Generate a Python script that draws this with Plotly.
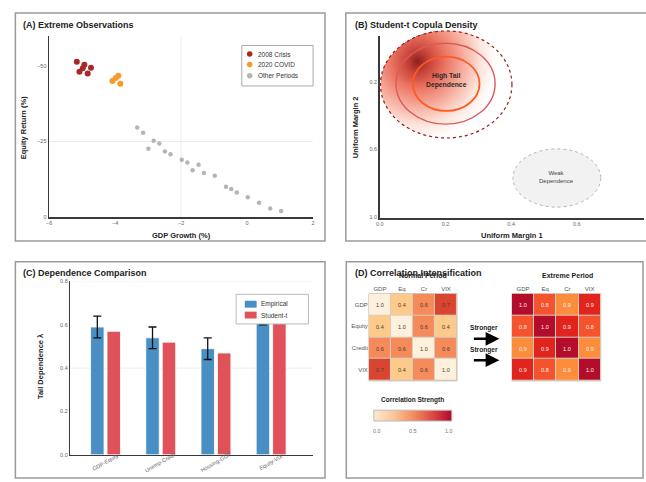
import numpy as np
import plotly.graph_objects as go

W, H = 646, 482
def px(x): return x / W
def py(y): return 1 - y / H

FONT = "Liberation Sans, Arial, sans-serif"
TICK = dict(size=5.5, color="#666666", family=FONT)

# ---------------- Panel A data ----------------
crisis_gdp = [-5.16, -4.93, -4.98, -5.08, -4.73, -4.83]
crisis_eq = [-51.3, -50.3, -49.1, -48.0, -49.3, -47.4]
covid_gdp = [-4.08, -3.98, -3.90, -3.84]
covid_eq = [-44.9, -45.9, -46.7, -44.0]
other_gdp = [-3.33, -3.15, -2.99, -2.83, -2.66, -2.49, -2.32, -1.98, -1.81, -1.65,
             -1.47, -1.31, -0.98, -0.64, -0.48, -0.31, 0.02, 0.36, 0.70, 1.03]
other_eq = [-29.6, -27.9, -22.6, -25.2, -24.3, -21.7, -20.8, -19.0, -18.1, -15.5,
            -17.3, -14.6, -13.7, -10.1, -9.3, -8.2, -6.6, -4.8, -2.9, -2.1]
a_xticks = [-6, -4, -2, 0, 2]
a_yticks = [0, -25, -50]

# ---------------- Panel B ticks ----------------
b_xticks = [0.0, 0.2, 0.4, 0.6, 0.8]
b_yticks = [0.2, 0.6, 1.0]

# ---------------- Panel C data ----------------
pairs = ["GDP-Equity", "Unemp-Credit", "Housing-GDP", "Equity-VIX"]
empirical = [0.59, 0.54, 0.49, 0.65]
empirical_err = [0.05, 0.05, 0.05, 0.05]
student_t = [0.57, 0.52, 0.47, 0.63]
c_yticks = [0.0, 0.2, 0.4, 0.6, 0.8]

# ---------------- Panel D data ----------------
corr_cols = ["GDP", "Eq", "Cr", "VIX"]
corr_rows = ["GDP", "Equity", "Credit", "VIX"]
normal_corr = [[1.0, 0.4, 0.6, 0.7],
               [0.4, 1.0, 0.6, 0.4],
               [0.6, 0.6, 1.0, 0.6],
               [0.7, 0.4, 0.6, 1.0]]
extreme_corr = [[1.0, 0.8, 0.9, 0.9],
                [0.8, 1.0, 0.9, 0.8],
                [0.9, 0.9, 1.0, 0.9],
                [0.9, 0.8, 0.9, 1.0]]
# colour level of each cell as drawn in the reference
shade_colors = ["#fdf0dc", "#fdca8c", "#f58b5b", "#fb8d3d",
                "#f4532d", "#da4532", "#e2241f", "#b30d2b"]
normal_shade = [[0, 1, 2, 5], [1, 0, 2, 1], [2, 2, 0, 2], [5, 1, 2, 0]]
extreme_shade = [[7, 4, 3, 6], [4, 7, 6, 4], [3, 6, 7, 3], [6, 4, 3, 7]]
cbar_ticks = ["0.0", "0.5", "1.0"]

n = len(shade_colors)
disc_scale = []
for i, c in enumerate(shade_colors):
    disc_scale.append([i / n, c])
    disc_scale.append([(i + 1) / n, c])

corr_scale = [[0, "#fde9d0"], [0.25, "#fbc59a"], [0.5, "#f38e5f"],
              [0.75, "#dc4a44"], [1, "#b0062f"]]

fig = go.Figure()

# ---- Panel A ----
fig.add_trace(go.Scatter(x=other_gdp, y=other_eq, mode="markers", name="Other Periods",
                         marker=dict(color="#b5b5b5", size=4.5), xaxis="x", yaxis="y"))
fig.add_trace(go.Scatter(x=covid_gdp, y=covid_eq, mode="markers", name="2020 COVID",
                         marker=dict(color="#f99b2c", size=6), xaxis="x", yaxis="y"))
fig.add_trace(go.Scatter(x=crisis_gdp, y=crisis_eq, mode="markers", name="2008 Crisis",
                         marker=dict(color="#a82828", size=6), xaxis="x", yaxis="y"))

# ---- Panel B ----
fig.add_trace(go.Scatter(x=[], y=[], xaxis="x2", yaxis="y2", showlegend=False))
# radial shading of the copula density (decorative gradient)
bx0, bx1, by0, by1 = 380, 512.7, 28.3, 136.7
gu = np.linspace(0, 1, 134)
gv = np.linspace(0, 1, 110)
GU, GV = np.meshgrid(gu, gv)
PX = bx0 + GU * (bx1 - bx0)
PY = by0 + GV * (by1 - by0)
dist = np.sqrt((PX - 418) ** 2 + (PY - 59) ** 2)
shade = np.clip(1 - dist / 80, 0, 1)
inside = ((GU - 0.5) / 0.5) ** 2 + ((GV - 0.5) / 0.5) ** 2 <= 1
shade = np.where(inside, shade, np.nan)
grad_scale = [[0, "#ffffff"], [0.2, "#fde4dc"], [0.4, "#f7b3a4"],
              [0.65, "#ec7563"], [0.85, "#c9443a"], [1, "#8f2020"]]
fig.add_trace(go.Heatmap(z=shade, x=gu, y=gv, colorscale=grad_scale, zmin=0, zmax=1,
                         showscale=False, hoverinfo="skip", xaxis="x3", yaxis="y3"))

# ---- Panel C ----
fig.add_trace(go.Bar(x=pairs, y=empirical, name="Empirical", width=0.244, offset=-0.271,
                     marker=dict(color="#4a8fc3", line=dict(color="rgba(255,255,255,0.8)", width=1)),
                     error_y=dict(type="data", array=empirical_err, color="#111111",
                                  thickness=1.3, width=4),
                     xaxis="x4", yaxis="y4"))
fig.add_trace(go.Bar(x=pairs, y=student_t, name="Student-t", width=0.244, offset=0.027,
                     marker=dict(color="#e0525a", line=dict(color="rgba(255,255,255,0.8)", width=1)),
                     xaxis="x4", yaxis="y4"))

# ---- Panel D ----
normal_text = [[f"{v:.1f}" for v in row] for row in normal_corr]
extreme_text = [[f"{v:.1f}" for v in row] for row in extreme_corr]
fig.add_trace(go.Heatmap(z=normal_shade, x=corr_cols, y=corr_rows, text=normal_text,
                         texttemplate="%{text}", textfont=dict(size=5.5, color="#4a3a2c", family=FONT),
                         colorscale=disc_scale, zmin=-0.5, zmax=n - 0.5, showscale=False,
                         xgap=1, ygap=1, hoverinfo="skip", xaxis="x5", yaxis="y5"))
fig.add_trace(go.Heatmap(z=extreme_shade, x=corr_cols, y=corr_rows, text=extreme_text,
                         texttemplate="%{text}", textfont=dict(size=5.5, color="#fff3e6", family=FONT),
                         colorscale=disc_scale, zmin=-0.5, zmax=n - 0.5, showscale=False,
                         xgap=1, ygap=1, hoverinfo="skip", xaxis="x6", yaxis="y6"))
cb = np.linspace(0, 1, 120)
fig.add_trace(go.Heatmap(z=[cb], x=cb, y=[0], colorscale=corr_scale, zmin=0, zmax=1,
                         showscale=False, hoverinfo="skip", xaxis="x7", yaxis="y7"))

axline = dict(showline=True, linecolor="#3a3a3a", linewidth=1.5, ticks="", showgrid=False,
              zeroline=False, tickfont=TICK, fixedrange=True)
hidden = dict(visible=False, showgrid=False, zeroline=False, fixedrange=True)

layout = dict(
    width=W, height=H, autosize=False,
    margin=dict(l=0, r=0, t=0, b=0),
    paper_bgcolor="white", plot_bgcolor="rgba(0,0,0,0)",
    showlegend=False, hovermode=False, barmode="overlay",
    font=dict(family=FONT, color="#222"),
    xaxis=dict(axline, domain=[px(45.5), px(312)], range=[-6, 2], tickvals=a_xticks,
               anchor="y"),
    yaxis=dict(axline, domain=[py(217), py(33)], range=[0, -59.9], tickvals=a_yticks,
               anchor="x"),
    xaxis2=dict(axline, domain=[px(379.3), 1.0], range=[0, 0.8045], tickvals=b_xticks,
                ticktext=[f"{v:.1f}" for v in b_xticks], anchor="y2"),
    yaxis2=dict(axline, domain=[py(218), py(33)], range=[1.0088, -0.0731], tickvals=b_yticks,
                ticktext=[f"{v:.1f}" for v in b_yticks], anchor="x2"),
    xaxis3=dict(hidden, domain=[px(bx0), px(bx1)], range=[0, 1], anchor="y3"),
    yaxis3=dict(hidden, domain=[py(by1), py(by0)], range=[1, 0], anchor="x3"),
    xaxis4=dict(axline, domain=[px(67), px(312)], range=[-0.637, 3.76],
                showticklabels=False, anchor="y4"),
    yaxis4=dict(axline, domain=[py(457.5), py(282)], range=[0, 0.8], tickvals=c_yticks,
                ticktext=[f"{v:.1f}" for v in c_yticks], anchor="x4"),
    xaxis5=dict(showline=False, ticks="", showgrid=False, zeroline=False, side="top",
                tickfont=dict(size=6, color="#555", family=FONT),
                domain=[px(368.3), px(457.3)], anchor="y5", fixedrange=True),
    yaxis5=dict(showline=False, ticks="", showgrid=False, zeroline=False, autorange="reversed",
                tickfont=dict(size=6, color="#555", family=FONT),
                domain=[py(382.7), py(294.3)], anchor="x5", fixedrange=True),
    xaxis6=dict(showline=False, ticks="", showgrid=False, zeroline=False, side="top",
                tickfont=dict(size=6, color="#555", family=FONT),
                domain=[px(512.7), px(602.3)], anchor="y6", fixedrange=True),
    yaxis6=dict(showline=False, ticks="", showgrid=False, zeroline=False, autorange="reversed",
                showticklabels=False, domain=[py(382.7), py(294.3)], anchor="x6", fixedrange=True),
    xaxis7=dict(hidden, domain=[px(373.3), px(452)], range=[0, 1], anchor="y7"),
    yaxis7=dict(hidden, domain=[py(423.3), py(412.3)], range=[-0.5, 0.5], anchor="x7"),
)

shapes = []
# panel frames
for (x0, y0, x1, y1) in [(11.5, 10, 324, 241), (345, 10, 650, 241),
                         (11.5, 262, 324, 481), (345.5, 262, 645, 481)]:
    shapes.append(dict(type="rect", xref="paper", yref="paper", x0=px(x0), x1=px(x1),
                       y0=py(y1), y1=py(y0), line=dict(color="#9a9a9a", width=1.5),
                       fillcolor="rgba(0,0,0,0)", layer="below"))
# gridlines
grid = dict(color="#ececec", width=1)
shapes += [
    dict(type="line", xref="x", yref="y", x0=-6, x1=2, y0=-25, y1=-25, line=grid, layer="below"),
    dict(type="line", xref="x", yref="y", x0=-2, x1=-2, y0=0, y1=-59.9, line=grid, layer="below"),
    dict(type="line", xref="x4", yref="y4", x0=-0.637, x1=3.76, y0=0.4, y1=0.4, line=grid, layer="below"),
    dict(type="line", xref="x4", yref="y4", x0=-0.637, x1=3.76, y0=0.8, y1=0.8, line=grid, layer="below"),
]
# panel B ellipses
def ell(x0, x1, y0, y1, **kw):
    d = dict(type="circle", xref="paper", yref="paper", x0=px(x0), x1=px(x1),
             y0=py(y1), y1=py(y0), layer="above")
    d.update(kw)
    return d
shapes += [
    ell(bx0, bx1, by0, by1, line=dict(color="#9b1c1c", width=1.2, dash="dot")),
    ell(395.7, 495.7, 40.7, 122.7, line=dict(color="#d95a5a", width=1.4)),
    ell(412.7, 480, 54.3, 109.3, line=dict(color="#ff5a1f", width=1.8)),
    ell(513.7, 602.3, 147.7, 206.7, fillcolor="#f2f2f2", line=dict(color="#b5b5b5", width=1, dash="dot"),
        layer="below"),
]
# panel A legend
shapes.append(dict(type="rect", xref="paper", yref="paper", x0=px(240), x1=px(312),
                   y0=py(84), y1=py(43), line=dict(color="#aaaaaa", width=1),
                   fillcolor="white", layer="above"))
for yy, col in [(51.7, "#a82828"), (62.3, "#f99b2c"), (73.7, "#b5b5b5")]:
    shapes.append(ell(245.2, 250.8, yy - 2.8, yy + 2.8, fillcolor=col, line=dict(width=0)))
# panel C legend
shapes.append(dict(type="rect", xref="paper", yref="paper", x0=px(234.3), x1=px(307.3),
                   y0=py(325), y1=py(295), line=dict(color="#bbbbbb", width=1),
                   fillcolor="white", layer="above"))
for yy, col in [(305, "#4a8fc3"), (316, "#e0525a")]:
    shapes.append(dict(type="rect", xref="paper", yref="paper", x0=px(243), x1=px(255),
                       y0=py(yy + 3.5), y1=py(yy - 3.5), line=dict(width=0),
                       fillcolor=col, layer="above"))
# heatmap backing (cell borders)
for ax in ["5", "6"]:
    shapes.append(dict(type="rect", xref=f"x{ax} domain", yref=f"y{ax} domain", x0=0, x1=1,
                       y0=0, y1=1, fillcolor="#d9ccbf", line=dict(color="#cfc4b8", width=1),
                       layer="below"))
# colourbar border
shapes.append(dict(type="rect", xref="paper", yref="paper", x0=px(373.3), x1=px(452),
                   y0=py(423.3), y1=py(412.3), line=dict(color="#bbbbbb", width=1),
                   fillcolor="rgba(0,0,0,0)", layer="above"))
layout["shapes"] = shapes

def txt(x, y, s, size=7, bold=False, color="#222", xanchor="center", angle=0):
    return dict(x=px(x), y=py(y), xref="paper", yref="paper", showarrow=False,
                text=f"<b>{s}</b>" if bold else s, xanchor=xanchor, yanchor="middle",
                textangle=angle, font=dict(size=size, color=color, family=FONT))

ann = [
    txt(17, 22, "(A) Extreme Observations", 9, True, xanchor="left"),
    txt(352, 22, "(B) Student-t Copula Density", 9, True, xanchor="left"),
    txt(17, 273, "(C) Dependence Comparison", 9, True, xanchor="left"),
    txt(352, 273, "(D) Correlation Intensification", 9, True, xanchor="left"),
    txt(179, 235, "GDP Growth (%)", 7.5, True),
    txt(20, 126, "Equity Return (%)", 7.5, True, angle=-90),
    txt(512.7, 235, "Uniform Margin 1", 7.5, True),
    txt(355, 126, "Uniform Margin 2", 7.5, True, angle=-90),
    txt(37, 368, "Tail Dependence λ", 7.5, True, angle=-90),
    txt(446.5, 78.5, "High Tail<br>Dependence", 6.8, True, color="#2a2a2a"),
    txt(558, 176.5, "Weak<br>Dependence", 6, color="#444"),
    txt(254, 51.7, "2008 Crisis", 6.5, color="#333", xanchor="left"),
    txt(254, 62.3, "2020 COVID", 6.5, color="#333", xanchor="left"),
    txt(254, 73.7, "Other Periods", 6.5, color="#333", xanchor="left"),
    txt(257, 305, "Empirical", 6.5, color="#333", xanchor="left"),
    txt(257, 316, "Student-t", 6.5, color="#333", xanchor="left"),
    txt(423, 275.7, "Normal Period", 7, True),
    txt(568.7, 276, "Extreme Period", 7, True),
    txt(485, 329, "Stronger", 6.6, True),
    txt(485, 351, "Stronger", 6.6, True),
    txt(412.7, 402.5, "Correlation Strength", 6.5, True),
]
# category tick labels of panel C, rotated about their centres
for i, s in enumerate(pairs):
    ann.append(dict(x=i, y=py(465), xref="x4", yref="paper", showarrow=False, text=s,
                    textangle=-30, xanchor="center", yanchor="middle",
                    font=dict(size=5.5, color="#666666", family=FONT)))
for xx, s in zip([376, 413, 449.6], cbar_ticks):
    ann.append(txt(xx, 433, s, 5.5, color="#777"))
for yy in [340, 361.7]:
    ann.append(dict(x=px(500), y=py(yy), xref="paper", yref="paper", text="",
                    showarrow=True, ax=-27, ay=0, axref="pixel", ayref="pixel",
                    arrowhead=2, arrowsize=1.1, arrowwidth=2.5, arrowcolor="black"))
layout["annotations"] = ann

fig.update_layout(**layout)
fig.write_html("out.html", config={"displayModeBar": False, "staticPlot": True},
               post_script="document.body.style.margin='0px';document.body.style.overflow='hidden';")
